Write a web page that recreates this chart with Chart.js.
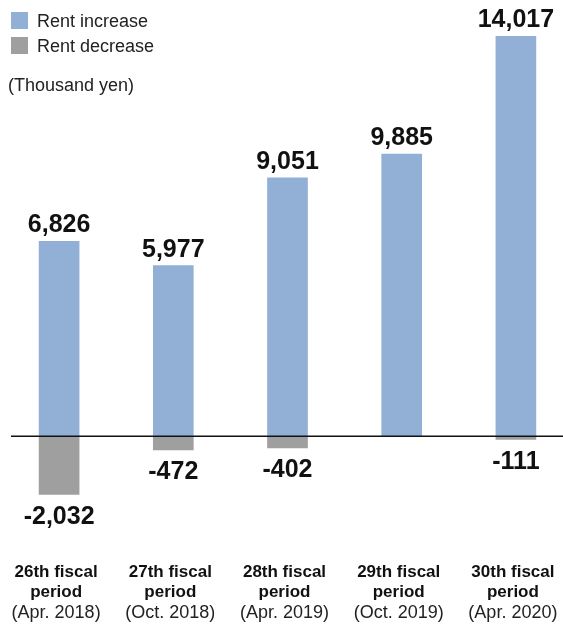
<!DOCTYPE html>
<html>
<head>
<meta charset="utf-8">
<script src="https://cdn.jsdelivr.net/npm/chart.js@4/dist/chart.umd.min.js"></script>
<style>
  html, body { margin: 0; padding: 0; background: #fff; overflow: hidden; width: 563px; height: 624px; }
  #wrap { position: relative; width: 563px; height: 624px; overflow: hidden; }
  canvas { position: absolute; left: 0; top: 0; }
  .lg { position: absolute; font-family: "Liberation Sans", Arial, sans-serif; font-size: 18px; color: #222; line-height: 20px; white-space: nowrap; }
  .sw { position: absolute; width: 17px; height: 17px; }
</style>
</head>
<body>
<div id="wrap">
  <canvas id="c" width="575" height="624" style="width:575px;height:624px"></canvas>
  <div class="sw" style="left:11px;top:12px;background:#92b0d5"></div>
  <div class="lg" style="left:37px;top:11px">Rent increase</div>
  <div class="sw" style="left:11px;top:37px;background:#9f9f9f"></div>
  <div class="lg" style="left:37px;top:36px">Rent decrease</div>
  <div class="lg" style="left:8px;top:75px">(Thousand yen)</div>
</div>
<script>
const periods = ["26th fiscal", "27th fiscal", "28th fiscal", "29th fiscal", "30th fiscal"];
const periodLine2 = ["period", "period", "period", "period", "period"];
const periodDates = ["(Apr. 2018)", "(Oct. 2018)", "(Apr. 2019)", "(Oct. 2019)", "(Apr. 2020)"];
const rentIncrease = [6826, 5977, 9051, 9885, 14017];
const rentDecrease = [-2032, -472, -402, null, -111];

const labelsPlugin = {
  id: 'customLabels',
  afterDatasetsDraw(chart) {
    const ctx = chart.ctx;
    const xs = chart.scales.x, ys = chart.scales.y;
    ctx.save();
    ctx.fillStyle = '#111';
    ctx.textAlign = 'center';
    ctx.font = 'bold 25px "Liberation Sans", Arial, sans-serif';
    chart.data.datasets.forEach((ds, di) => {
      const meta = chart.getDatasetMeta(di);
      meta.data.forEach((bar, i) => {
        const v = ds.data[i];
        if (v === null || v === undefined) return;
        const txt = v.toLocaleString('en-US');
        if (v >= 0) {
          ctx.textBaseline = 'alphabetic';
          ctx.fillText(txt, bar.x, bar.y - 9);
        } else {
          ctx.textBaseline = 'top';
          ctx.fillText(txt, bar.x, bar.y + 10);
        }
      });
    });
    // zero line
    const y0 = ys.getPixelForValue(0);
    ctx.strokeStyle = '#111';
    ctx.lineWidth = 1.5;
    ctx.beginPath();
    ctx.moveTo(11, y0);
    ctx.lineTo(563, y0);
    ctx.stroke();
    // category labels
    ctx.textBaseline = 'middle';
    periods.forEach((p, i) => {
      const x = xs.getPixelForValue(i) - 3;
      ctx.fillStyle = '#111';
      ctx.font = 'bold 17px "Liberation Sans", Arial, sans-serif';
      ctx.fillText(p, x, 572);
      ctx.fillText(periodLine2[i], x, 592);
      ctx.fillStyle = '#222';
      ctx.font = '18px "Liberation Sans", Arial, sans-serif';
      ctx.fillText(periodDates[i], x, 613);
    });
    ctx.restore();
  }
};

new Chart(document.getElementById('c'), {
  type: 'bar',
  data: {
    labels: periods,
    datasets: [
      { label: 'Rent increase', data: rentIncrease, backgroundColor: '#92b0d5', barThickness: 40, borderWidth: 0 },
      { label: 'Rent decrease', data: rentDecrease, backgroundColor: '#9f9f9f', barThickness: 40, borderWidth: 0 }
    ]
  },
  options: {
    responsive: false,
    animation: false,
    layout: { padding: { left: 2, right: 2, top: 36, bottom: 102 } },
    plugins: { legend: { display: false }, tooltip: { enabled: false } },
    scales: {
      x: { stacked: true, display: false, grid: { display: false } },
      y: { stacked: true, display: false, min: -3000, max: 14017, grid: { display: false } }
    }
  },
  plugins: [labelsPlugin]
});
</script>
</body>
</html>
